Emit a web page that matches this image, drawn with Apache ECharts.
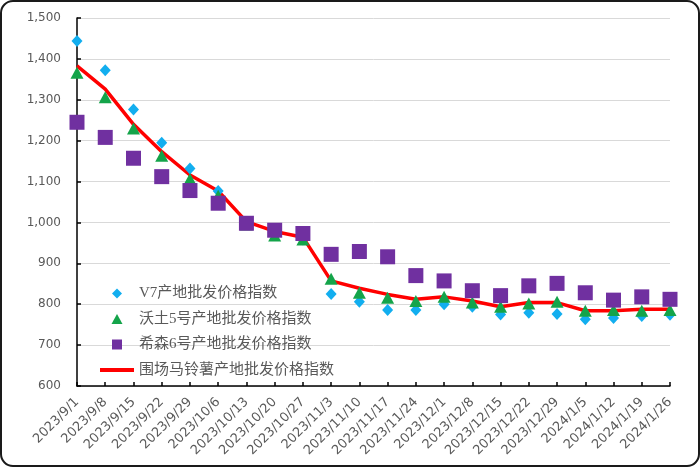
<!DOCTYPE html>
<html>
<head>
<meta charset="utf-8">
<script src="https://cdn.jsdelivr.net/npm/echarts@6/dist/echarts.min.js"></script>
<style>
html,body{margin:0;padding:0;background:#fff;}
#chart{position:absolute;left:0;top:0;width:700px;height:467px;}
#frame{position:absolute;left:0;top:0;width:700px;height:467px;box-sizing:border-box;border:2px solid #1a1a1a;border-radius:13px;pointer-events:none;}
</style>
</head>
<body>
<div id="chart"></div>
<div id="frame"></div>
<script>
const dates = ['2023/9/1','2023/9/8','2023/9/15','2023/9/22','2023/9/29','2023/10/6','2023/10/13','2023/10/20','2023/10/27','2023/11/3','2023/11/10','2023/11/17','2023/11/24','2023/12/1','2023/12/8','2023/12/15','2023/12/22','2023/12/29','2024/1/5','2024/1/12','2024/1/19','2024/1/26'];
const v7 = [1444,1372,1276,1195,1132,1077,997,970,958,825,806,786,786,800,794,775,779,776,763,766,771,774];
const wotu5 = [1366,1306,1230,1163,1106,1065,995,968,958,862,828,816,808,818,804,794,802,806,784,786,784,786];
const xisen6 = [1245,1208,1157,1112,1078,1047,998,981,973,922,929,916,870,857,833,821,845,851,828,810,818,812];
const weichang = [1383,1326,1240,1173,1116,1077,1002,978,964,857,839,824,812,818,808,794,804,804,784,784,788,788];
const names = ['V7产地批发价格指数','沃土5号产地批发价格指数','希森6号产地批发价格指数','围场马铃薯产地批发价格指数'];
const yTicks = {min:600, max:1500, interval:100};

const chart = echarts.init(document.getElementById('chart'), null, {renderer:'canvas'});
const labelFont = '"DejaVu Sans", sans-serif';
chart.setOption({
  animation:false,
  backgroundColor:'#fff',
  grid:{left:77, right:30, top:18, bottom:81, containLabel:false},
  legend:{
    orient:'vertical', left:95, top:281,
    itemWidth:34, itemHeight:10, itemGap:10.5,
    symbolKeepAspect:true,
    data:[
      {name:names[0], icon:'path://M5,0 L10,5 L5,10 L0,5 Z', itemStyle:{color:'#12AEEF'}},
      {name:names[1], icon:'path://M5.5,0 L11,10 L0,10 Z', itemStyle:{color:'#14A44A'}},
      {name:names[2], icon:'path://M0,0 L10,0 L10,10 L0,10 Z', itemStyle:{color:'#7030A0'}},
      {name:names[3], icon:'path://M0,0 L34,0 L34,4 L0,4 Z', itemStyle:{color:'#FF0000'}}
    ],
    textStyle:{fontSize:15, color:'#595959', fontFamily:'"Liberation Serif", "Noto Sans CJK SC", serif'}
  },
  xAxis:{
    type:'category', data:dates, boundaryGap:false,
    axisLine:{lineStyle:{color:'#000', width:1.5}},
    axisTick:{inside:true, length:4, alignWithLabel:true, interval:0, lineStyle:{color:'#000', width:1.5}},
    axisLabel:{rotate:45, interval:0, fontSize:13, color:'#595959', fontFamily:labelFont, margin:14},
    splitLine:{show:false}
  },
  yAxis:{
    type:'value', min:yTicks.min, max:yTicks.max, interval:yTicks.interval,
    axisLine:{show:true, lineStyle:{color:'#000', width:1.5}},
    axisTick:{show:true, inside:true, length:4, lineStyle:{color:'#000', width:1.5}},
    axisLabel:{fontSize:12, color:'#595959', fontFamily:labelFont, margin:16,
      formatter:v => v.toLocaleString('en-US')},
    splitLine:{lineStyle:{color:'#D9D9D9', width:1}}
  },
  series:[
    {name:names[0], type:'scatter', data:v7, symbol:'diamond', symbolSize:[11,12], z:3,
     itemStyle:{color:'#12AEEF', opacity:1}},
    {name:names[1], type:'scatter', data:wotu5, symbol:'triangle', symbolSize:[13,12], z:4,
     itemStyle:{color:'#14A44A', opacity:1}},
    {name:names[2], type:'scatter', data:xisen6, symbol:'rect', symbolSize:15, z:5,
     itemStyle:{color:'#7030A0', opacity:1}},
    {name:names[3], type:'line', data:weichang, symbol:'none', showSymbol:false, z:2,
     lineStyle:{color:'#FF0000', width:3.5}, itemStyle:{color:'#FF0000'}}
  ]
});
</script>
</body>
</html>
